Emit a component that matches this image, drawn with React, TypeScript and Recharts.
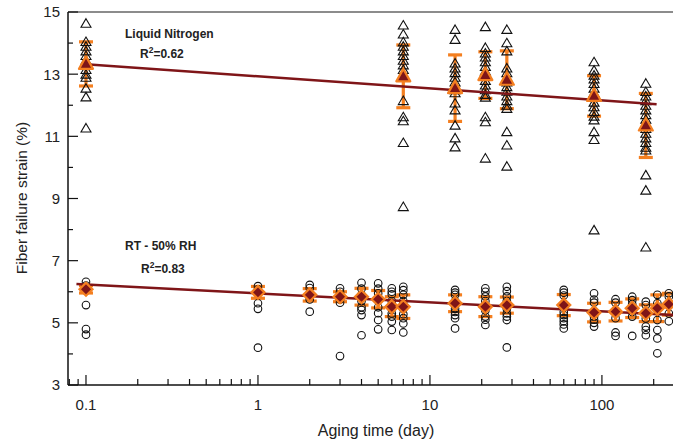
import React from 'react';
import {
  ScatterChart,
  Scatter,
  XAxis,
  YAxis,
  ErrorBar,
  ReferenceLine,
  Customized,
} from 'recharts';

// ---------- data ----------
const lnDays = [0.1, 7, 14, 21, 28, 90, 180];
const lnValues = [
  [14.64, 14.05, 13.9, 13.75, 13.6, 13.45, 13.3, 13.15, 13.0, 12.9, 12.55, 12.27, 11.27],
  [14.58, 14.29, 14.04, 13.9, 13.75, 13.6, 13.45, 13.3, 13.15, 13.0, 12.9, 12.15, 11.63, 11.5, 10.8, 8.74],
  [14.44, 14.12, 13.36, 13.2, 13.05, 12.9, 12.75, 12.6, 12.5, 12.4, 12.07, 11.85, 11.36, 10.95, 10.66],
  [14.53, 13.86, 13.68, 13.55, 13.4, 13.25, 13.1, 12.95, 12.8, 12.65, 12.5, 12.35, 12.26, 11.63, 11.47, 10.3],
  [14.44, 14.01, 13.75, 13.2, 13.05, 12.9, 12.75, 12.6, 12.45, 12.3, 12.15, 12.0, 11.9, 11.15, 10.72, 10.04],
  [13.4, 13.13, 12.97, 12.85, 12.7, 12.55, 12.4, 12.25, 12.1, 11.95, 11.8, 11.65, 11.53, 11.15, 10.9, 7.99],
  [12.71, 12.44, 12.3, 12.15, 12.0, 11.85, 11.7, 11.55, 11.4, 11.25, 11.1, 10.95, 10.8, 10.65, 10.56, 9.76, 9.27, 7.44],
];
const lnMeans = [13.33, 12.93, 12.55, 12.97, 12.82, 12.3, 11.35];
const lnSD = [0.71, 1.01, 1.07, 0.75, 0.93, 0.65, 1.03];

const rtDays = [0.1, 1, 2, 3, 4, 5, 6, 7, 14, 21, 28, 60, 90, 120, 150, 180, 210, 245];
const rtValues = [
  [6.32, 6.2, 6.06, 5.57, 4.8, 4.62],
  [6.18, 6.08, 5.95, 5.63, 5.45, 4.2],
  [6.22, 6.12, 5.95, 5.84, 5.75, 5.36],
  [6.11, 6.0, 5.9, 5.75, 5.65, 3.93],
  [6.29, 6.1, 5.9, 5.7, 5.5, 5.41, 5.25, 4.6],
  [6.27, 6.1, 5.95, 5.75, 5.5, 5.31, 5.09, 4.79],
  [6.11, 6.0, 5.92, 5.7, 5.45, 5.3, 5.2, 5.04, 4.77],
  [6.16, 6.05, 5.9, 5.7, 5.45, 5.28, 5.15, 4.98, 4.69],
  [6.06, 5.97, 5.9, 5.7, 5.45, 5.35, 5.25, 5.15, 4.82],
  [6.11, 6.0, 5.85, 5.7, 5.4, 5.2, 5.1, 4.93],
  [6.16, 6.02, 5.85, 5.7, 5.45, 5.3, 5.2, 5.09, 4.21],
  [6.06, 5.97, 5.88, 5.35, 5.25, 5.15, 5.05, 4.95, 4.82],
  [5.95, 5.75, 5.65, 5.2, 5.1, 5.0, 4.88],
  [5.76, 5.65, 5.4, 5.15, 4.69, 4.58],
  [5.84, 5.73, 5.6, 5.35, 5.2, 4.58],
  [5.68, 5.57, 5.14, 4.88, 4.77, 4.6],
  [5.9, 5.63, 5.47, 5.09, 4.77, 4.5, 4.02],
  [5.95, 5.85, 5.3, 5.05],
];
const rtMeans = [6.08, 5.98, 5.9, 5.84, 5.84, 5.76, 5.52, 5.52, 5.63, 5.52, 5.57, 5.57, 5.33, 5.36, 5.47, 5.31, 5.47, 5.6];
const rtSD = [0.12, 0.19, 0.2, 0.16, 0.27, 0.28, 0.32, 0.38, 0.27, 0.32, 0.26, 0.34, 0.3, 0.3, 0.3, 0.27, 0.43, 0.35];

const lnFitX = [0.095, 208];
const lnFitY = [13.33, 12.03];
const rtFitX = [0.088, 259];
const rtFitY = [6.25, 5.25];

const xMajorTicks = [0.1, 1, 10, 100];
const xMinorTicks = [0.08, 0.09, 0.2, 0.3, 0.4, 0.5, 0.6, 0.7, 0.8, 0.9, 2, 3, 4, 5, 6, 7, 8, 9, 20, 30, 40, 50, 60, 70, 80, 90, 200];
const yTicks = [3, 4, 5, 6, 7, 8, 9, 10, 11, 12, 13, 14, 15];
const yLabelTicks = [3, 5, 7, 9, 11, 13, 15];

// ---------- derived ----------
const lnPoints = lnDays.flatMap((d, i) => lnValues[i].map((v) => ({ x: d, y: v })));
const rtPoints = rtDays.flatMap((d, i) => rtValues[i].map((v) => ({ x: d, y: v })));
const lnMeanPts = lnDays.map((d, i) => ({ x: d, y: lnMeans[i], err: lnSD[i] }));
const rtMeanPts = rtDays.map((d, i) => ({ x: d, y: rtMeans[i], err: rtSD[i] }));
const lnFit = lnFitX.map((x, i) => ({ x, y: lnFitY[i] }));
const rtFit = rtFitX.map((x, i) => ({ x, y: rtFitY[i] }));
const xTicks = [...xMajorTicks, ...xMinorTicks].sort((a, b) => a - b);

const FONT = '"Liberation Sans", Arial, Helvetica, sans-serif';
const ORANGE = '#f47f20';
const DARKRED = '#7f1518';

const OpenTriangle = (p: any) => {
  const { cx, cy } = p;
  if (cx == null || cy == null) return <g />;
  return (
    <path
      d={`M${cx},${cy - 4.5}L${cx + 5},${cy + 4}L${cx - 5},${cy + 4}Z`}
      fill="none"
      stroke="#111"
      strokeWidth={1.1}
    />
  );
};

const OpenCircle = (p: any) => {
  const { cx, cy } = p;
  if (cx == null || cy == null) return <g />;
  return <circle cx={cx} cy={cy} r={3.8} fill="none" stroke="#111" strokeWidth={1.1} />;
};

const MeanTriangle = (p: any) => {
  const { cx, cy } = p;
  if (cx == null || cy == null) return <g />;
  return (
    <path
      d={`M${cx},${cy - 7.5}L${cx + 7},${cy + 5}L${cx - 7},${cy + 5}Z`}
      fill={DARKRED}
      stroke={ORANGE}
      strokeWidth={2.2}
      strokeLinejoin="round"
    />
  );
};

const MeanDiamond = (p: any) => {
  const { cx, cy } = p;
  if (cx == null || cy == null) return <g />;
  return (
    <path
      d={`M${cx},${cy - 6.5}L${cx + 6.5},${cy}L${cx},${cy + 6.5}L${cx - 6.5},${cy}Z`}
      fill={DARKRED}
      stroke={ORANGE}
      strokeWidth={2.2}
    />
  );
};

const NoShape = () => <g />;

const XTick = (props: any) => {
  const { x, y, payload } = props;
  const major = xMajorTicks.includes(payload.value);
  return (
    <g>
      <line x1={x} x2={x} y1={y} y2={y - (major ? 10 : 6)} stroke="#111" strokeWidth={1.2} />
      {major && (
        <text x={x} y={y + 25} textAnchor="middle" fontSize={15} fill="#222" fontFamily={FONT}>
          {payload.value}
        </text>
      )}
    </g>
  );
};

const YTick = (props: any) => {
  const { x, y, payload } = props;
  const major = yLabelTicks.includes(payload.value);
  return (
    <g>
      <line x1={x} x2={x + (major ? 10 : 5)} y1={y} y2={y} stroke="#111" strokeWidth={1.2} />
      {major && (
        <text x={x - 8} y={y} dy="0.36em" textAnchor="end" fontSize={15} fill="#222" fontFamily={FONT}>
          {payload.value}
        </text>
      )}
    </g>
  );
};

const Annotations = () => (
  <g fontFamily={FONT} fill="#222">
    <text x={376} y={436} textAnchor="middle" fontSize={16}>
      Aging time (day)
    </text>
    <text transform="translate(27,198) rotate(-90)" textAnchor="middle" fontSize={15.5}>
      Fiber failure strain (%)
    </text>
    <text x={125} y={38} fontSize={12} fontWeight="bold">
      Liquid Nitrogen
    </text>
    <text x={140} y={58} fontSize={12} fontWeight="bold">
      R<tspan dy={-5} fontSize={8.5}>2</tspan>
      <tspan dy={5}>=0.62</tspan>
    </text>
    <text x={125} y={250} fontSize={12} fontWeight="bold">
      RT - 50% RH
    </text>
    <text x={141} y={273} fontSize={12} fontWeight="bold">
      R<tspan dy={-5} fontSize={8.5}>2</tspan>
      <tspan dy={5}>=0.83</tspan>
    </text>
  </g>
);

export default function App() {
  return (
    <div style={{ position: 'fixed', left: 0, top: 0, width: 673, height: 443, background: '#fff' }}>
      <ScatterChart width={673} height={443} margin={{ top: 12, right: 0, bottom: 0, left: 0 }}>
        <XAxis
          type="number"
          dataKey="x"
          scale="log"
          domain={[0.0786, 259]}
          allowDataOverflow
          ticks={xTicks}
          interval={0}
          height={58}
          tickSize={0}
          tickMargin={0}
          tickLine={false}
          axisLine={{ stroke: '#111', strokeWidth: 1.5 }}
          tick={<XTick />}
        />
        <YAxis
          type="number"
          dataKey="y"
          domain={[3, 15]}
          allowDataOverflow
          ticks={yTicks}
          interval={0}
          width={68}
          tickSize={0}
          tickMargin={0}
          tickLine={false}
          axisLine={{ stroke: '#111', strokeWidth: 1.5 }}
          tick={<YTick />}
        />
        <ReferenceLine y={15} stroke="#8c8c8c" strokeWidth={2} />
        <Scatter data={lnPoints} shape={OpenTriangle} isAnimationActive={false} />
        <Scatter data={rtPoints} shape={OpenCircle} isAnimationActive={false} />
        <Scatter
          data={lnFit}
          shape={NoShape}
          line={{ stroke: DARKRED, strokeWidth: 2.5 }}
          isAnimationActive={false}
        />
        <Scatter
          data={rtFit}
          shape={NoShape}
          line={{ stroke: DARKRED, strokeWidth: 2.5 }}
          isAnimationActive={false}
        />
        <Scatter data={lnMeanPts} shape={MeanTriangle} isAnimationActive={false}>
          <ErrorBar dataKey="err" direction="y" width={7} stroke={ORANGE} strokeWidth={3.2} />
        </Scatter>
        <Scatter data={rtMeanPts} shape={MeanDiamond} isAnimationActive={false}>
          <ErrorBar dataKey="err" direction="y" width={7} stroke={ORANGE} strokeWidth={3.2} />
        </Scatter>
        <Customized component={Annotations} />
      </ScatterChart>
    </div>
  );
}
